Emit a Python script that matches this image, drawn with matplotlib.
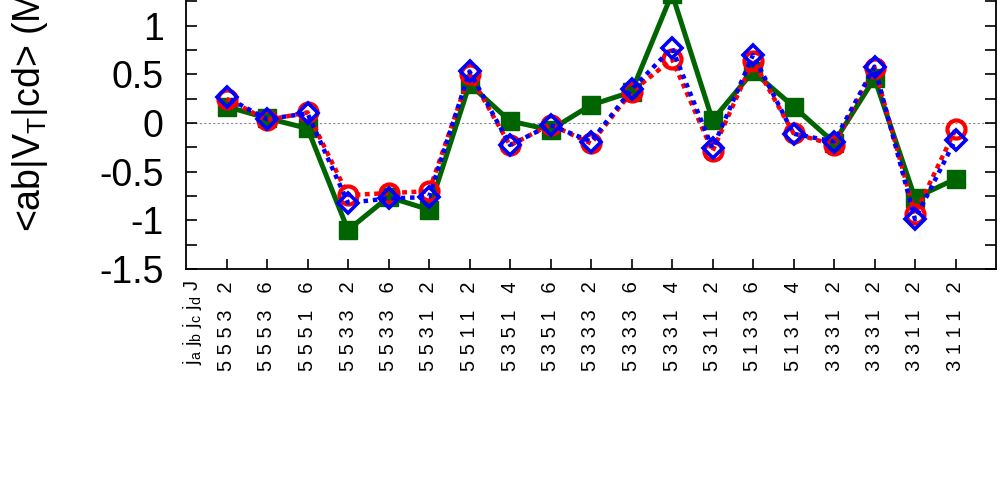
import numpy as np
import matplotlib
matplotlib.use('Agg')
import matplotlib.pyplot as plt

plt.rcParams['font.family'] = ['Liberation Sans', 'DejaVu Sans']
plt.rcParams['mathtext.fontset'] = 'custom'
plt.rcParams['mathtext.rm'] = 'Liberation Sans'
plt.rcParams['mathtext.it'] = 'Liberation Sans'

# orbit labels: ja jb jc jd J
ja = [5, 5, 5, 5, 5, 5, 5, 5, 5, 5, 5, 5, 5, 5, 5, 3, 3, 3, 3]
jb = [5, 5, 5, 5, 5, 5, 5, 3, 3, 3, 3, 3, 3, 1, 1, 3, 3, 3, 1]
jc = [5, 5, 5, 3, 3, 3, 1, 5, 5, 3, 3, 3, 1, 3, 3, 3, 3, 1, 1]
jd = [3, 3, 1, 3, 3, 1, 1, 1, 1, 3, 3, 1, 1, 3, 1, 1, 1, 1, 1]
J = [2, 6, 6, 2, 6, 2, 2, 4, 6, 2, 6, 4, 2, 6, 4, 2, 2, 2, 2]

green_vals = [0.17, 0.05, -0.055, -1.10, -0.76, -0.89, 0.40, 0.02, -0.07, 0.185,
              0.32, 1.33, 0.03, 0.53, 0.17, -0.20, 0.46, -0.77, -0.575]
red_vals = [0.25, 0.03, 0.11, -0.74, -0.72, -0.70, 0.50, -0.23, -0.015, -0.21,
            0.32, 0.655, -0.29, 0.64, -0.105, -0.225, 0.57, -0.935, -0.065]
blue_vals = [0.265, 0.04, 0.10, -0.82, -0.775, -0.76, 0.53, -0.225, -0.02, -0.19,
             0.345, 0.77, -0.26, 0.70, -0.11, -0.19, 0.58, -0.99, -0.17]

x = np.arange(1, len(J) + 1)
tick_labels = [f'{a} {b} {c} {d}   {j}' for a, b, c, d, j in zip(ja, jb, jc, jd, J)]

fig = plt.figure(figsize=(10, 4.86), dpi=100)
ax = fig.add_axes([0.186, 1 - 269 / 486, 0.81, 4 * 97.3 / 486])

ax.axhline(0, color='#888888', lw=0.8, ls=(0, (2, 2)), zorder=1)

ax.plot(x, green_vals, color='#006400', lw=3.6, marker='s', ms=12.5,
        mfc='#006400', mec='#006400', zorder=2)
ax.plot(x, red_vals, color='#ff0000', lw=3.2, ls=(0, (1.1, 1.0)), marker='o', ms=13,
        mfc='none', mec='#ff0000', mew=3.0, zorder=3)
ax.plot(x, blue_vals, color='#0000ff', lw=3.2, ls=(1, (1.0, 1.1)), marker='D', ms=10.5,
        mfc='none', mec='#0000ff', mew=2.6, zorder=4)

ax.set_xlim(0, 20)
ax.set_ylim(-1.5, 2.5)
ax.set_yticks(np.arange(-1.5, 2.51, 0.5))
ax.set_yticklabels(['-1.5', '-1', '-0.5', '0', '0.5', '1', '1.5', '2', '2.5'])
ax.set_yticks(np.arange(-1.5, 2.51, 0.25), minor=True)
ax.set_xticks(x)
ax.set_xticklabels(tick_labels, rotation=90, fontsize=14.5, va='top', ha='center')

ax.tick_params(axis='y', which='both', direction='in', length=8, width=1.2,
               right=True, labelsize=27, pad=16)
ax.tick_params(axis='x', which='major', direction='in', length=7, width=1.2,
               top=True, pad=9)
for s in ax.spines.values():
    s.set_linewidth(1.3)

fig.text(0.192, 1 - 280 / 486,
         r'j$_\mathrm{a}$ j$_\mathrm{b}$ j$_\mathrm{c}$ j$_\mathrm{d}$ J',
         rotation=90, ha='center', va='top', fontsize=14.5)

fig.text(0.030, 1 - 232 / 486, r'<ab|V$_\mathrm{T}$|cd> (MeV)', rotation=90,
         ha='center', va='bottom', fontsize=27)

fig.savefig('out.png', dpi=100)
